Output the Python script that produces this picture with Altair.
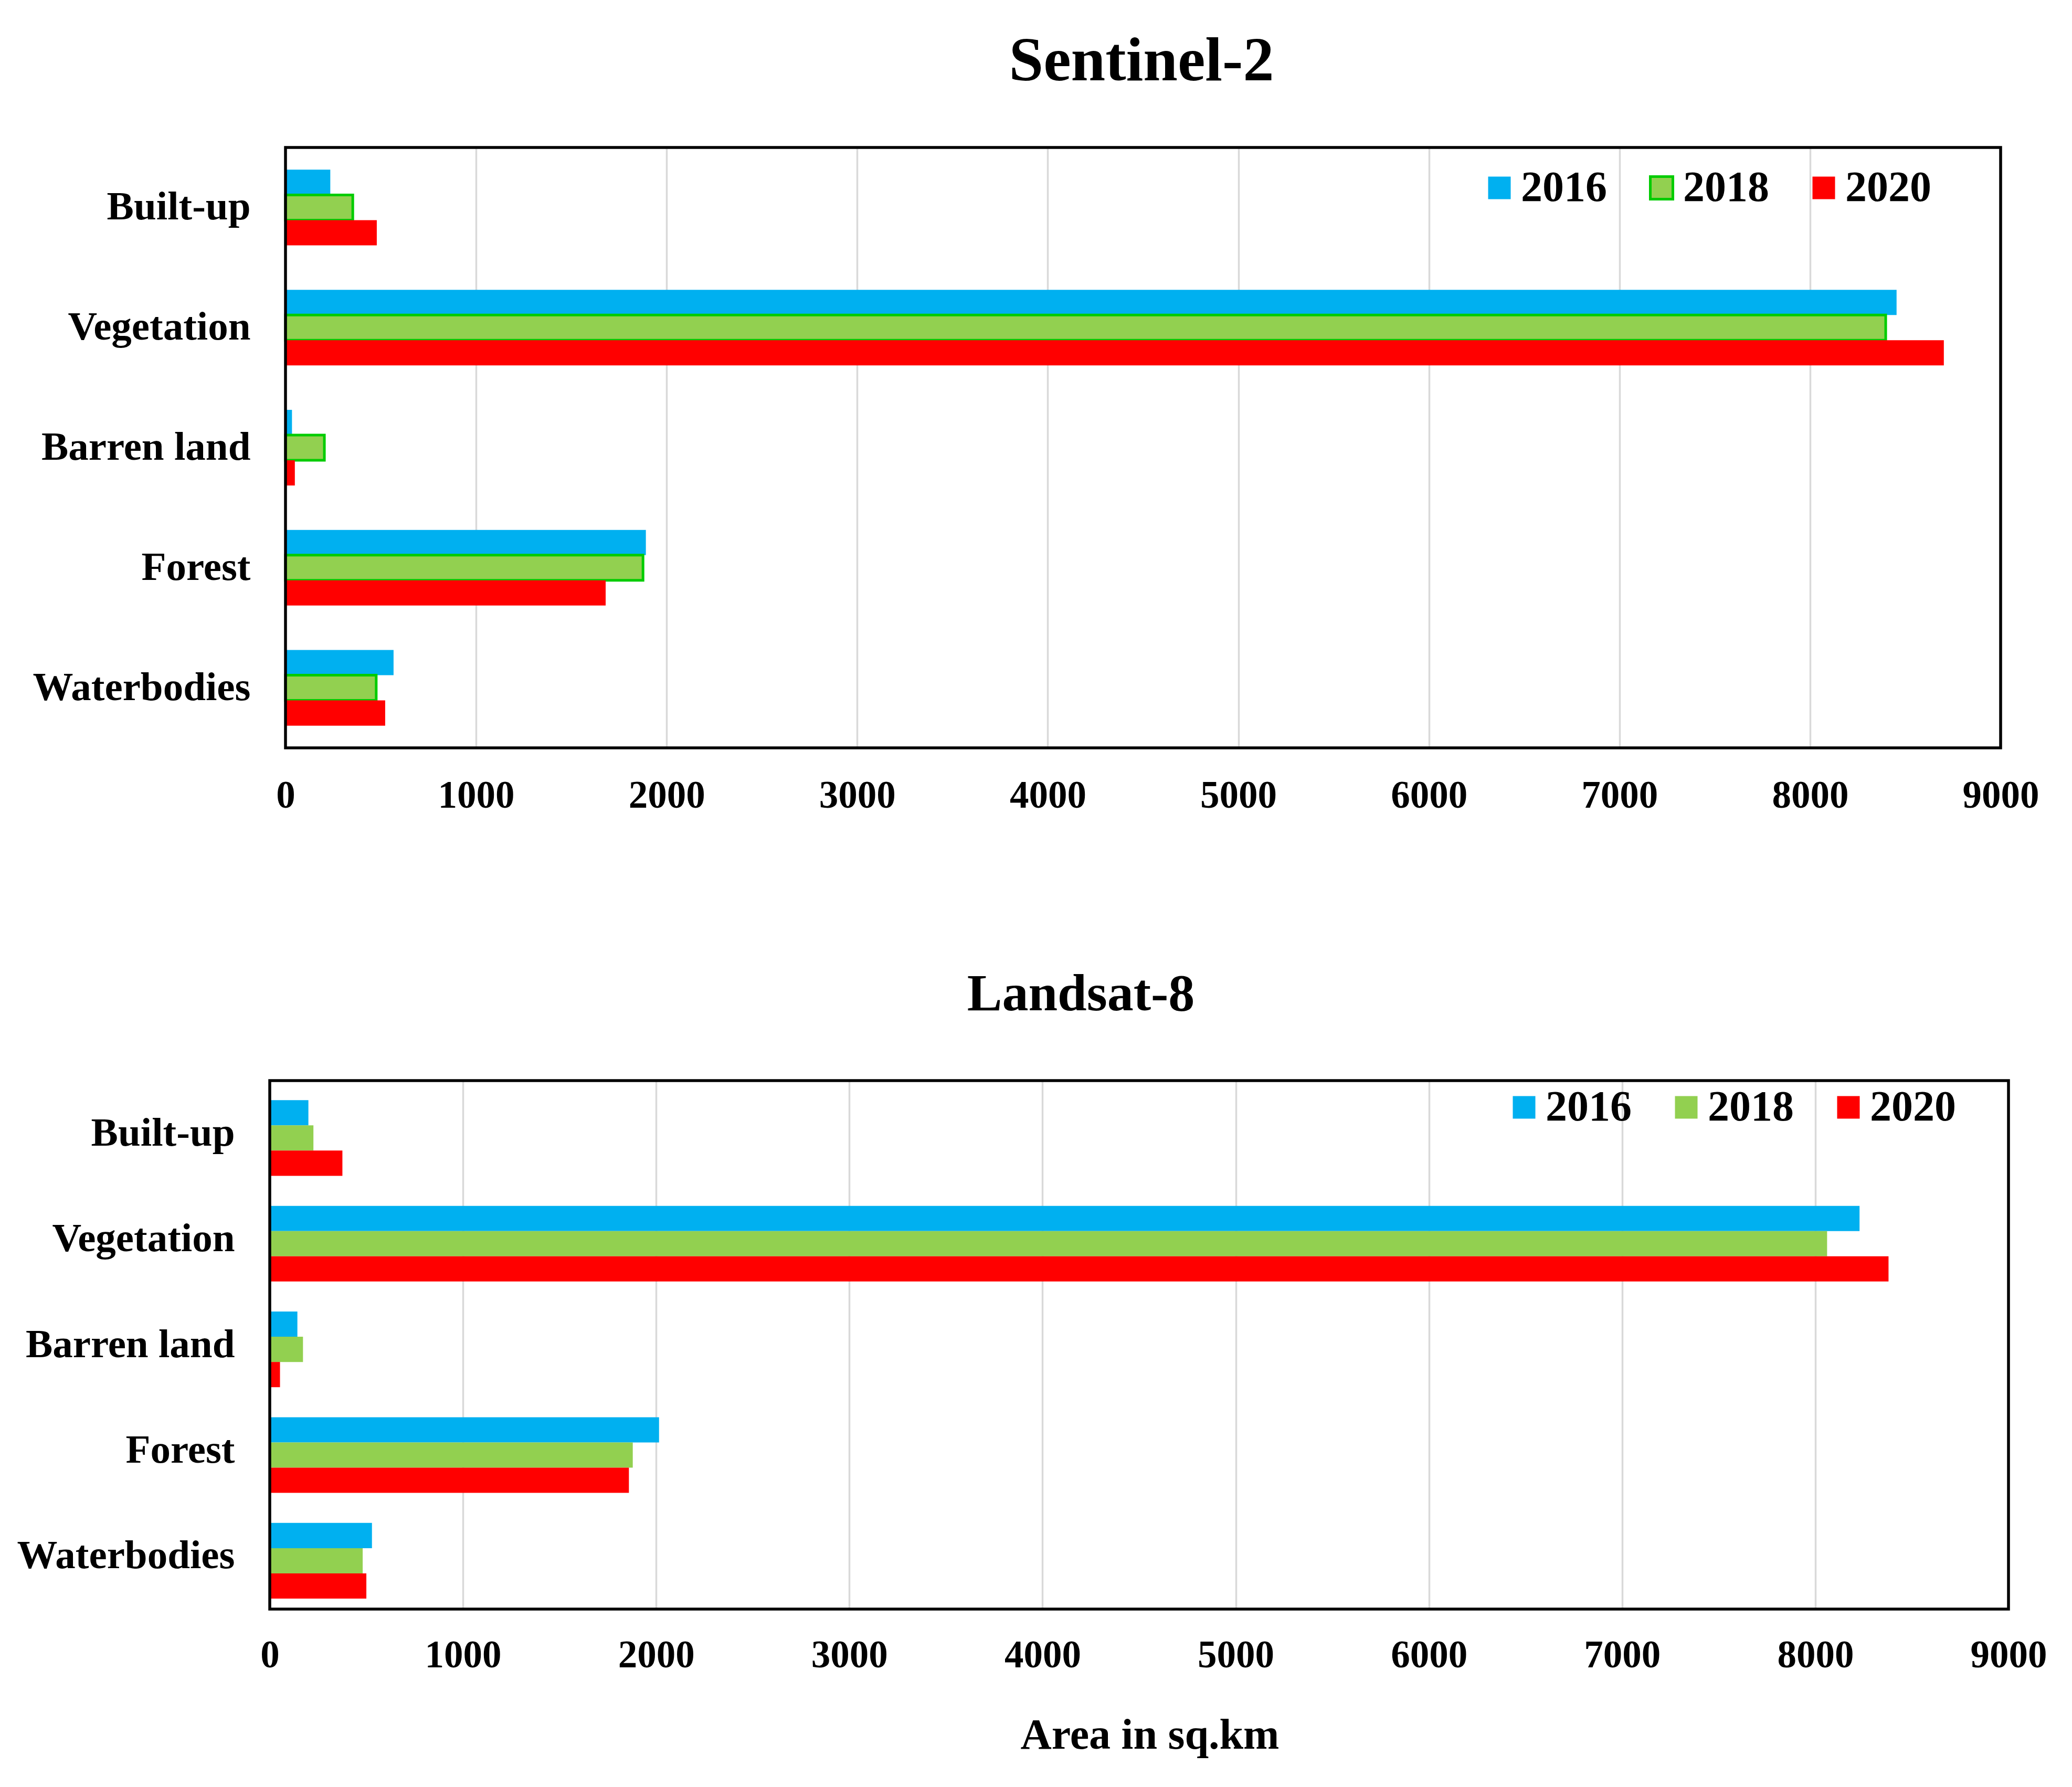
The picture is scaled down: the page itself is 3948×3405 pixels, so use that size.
import altair as alt
import pandas as pd

categories = ["Built-up", "Vegetation", "Barren land", "Forest", "Waterbodies"]
years = ["2016", "2018", "2020"]

s2_2016 = [235, 8454, 34, 1891, 567]
s2_2018 = [353, 8397, 204, 1876, 476]
s2_2020 = [479, 8702, 49, 1680, 523]

l8_2016 = [200, 8229, 143, 2015, 529]
l8_2018 = [226, 8061, 172, 1879, 481]
l8_2020 = [376, 8379, 53, 1859, 500]

x_ticks = [0, 1000, 2000, 3000, 4000, 5000, 6000, 7000, 8000, 9000]

FONT = "Liberation Serif"
colors = ["#00B0F0", "#92D050", "#FF0000"]
BORDER = 5.5


def frame(a, b, c):
    rows = []
    for yr, vals in zip(years, [a, b, c]):
        for cat, v in zip(categories, vals):
            rows.append({"category": cat, "year": yr, "area": v})
    return pd.DataFrame(rows)


def panel(df, title, width, height, shift, legend_x, legend_y, title_offset,
          title_size, title_dx, stroke_range, show_xtitle, xlabel_pad):
    total_w = width + shift
    legend = alt.Legend(
        title=None, orient="none", direction="horizontal",
        legendX=legend_x, legendY=legend_y,
        symbolType="square", symbolSize=1850, symbolStrokeWidth=5,
        labelFont=FONT, labelFontWeight="bold", labelFontSize=82,
        labelColor="black", labelOffset=0, columnPadding=63, padding=0,
        labelLimit=0,
    )
    axis_kwargs = dict(
        values=x_ticks, format="d", grid=True, gridColor="#D9D9D9",
        gridWidth=3.5,
        gridOpacity={"condition": {"test": "datum.value === 0 || datum.value === 9000",
                                   "value": 0}, "value": 1},
        ticks=False, domain=False,
        labelFont=FONT, labelFontWeight="bold", labelFontSize=73,
        labelColor="black", labelPadding=xlabel_pad, labelFlush=False,
        labelLimit=0,
    )
    if show_xtitle:
        x_axis = alt.Axis(
            title="Area in sq.km", titleFont=FONT, titleFontWeight="bold",
            titleFontSize=82, titleColor="black", titlePadding=75,
            titleX=total_w / 2 + 20, **axis_kwargs,
        )
    else:
        x_axis = alt.Axis(title=None, **axis_kwargs)
    y_axis = alt.Axis(
        title=None, ticks=False, domain=False, grid=False,
        labelFont=FONT, labelFontWeight="bold", labelFontSize=77,
        labelColor="black", labelPadding=67, labelLimit=0,
        offset=-shift,
    )
    enc = dict(
        x=alt.X("area:Q",
                scale=alt.Scale(domain=[0, 9000], range=[shift, total_w], nice=False),
                axis=x_axis),
        y=alt.Y("category:N", sort=categories,
                scale=alt.Scale(paddingInner=0.37, paddingOuter=0.185), axis=y_axis),
        yOffset=alt.YOffset("year:N", sort=years,
                            scale=alt.Scale(paddingInner=0, paddingOuter=0)),
        color=alt.Color("year:N", sort=years,
                        scale=alt.Scale(domain=years, range=colors), legend=legend),
    )
    if stroke_range is not None:
        enc["stroke"] = alt.Stroke("year:N", sort=years,
                                   scale=alt.Scale(domain=years, range=stroke_range),
                                   legend=legend)
    bars = alt.Chart(df).mark_bar(
        opacity=1, strokeWidth=5 if stroke_range is not None else 0
    ).encode(**enc)
    border = alt.Chart(alt.Data(values=[{"k": 1}])).mark_rect(
        fill="transparent", stroke="black", strokeWidth=BORDER
    ).encode(
        x=alt.value(shift), x2=alt.value(total_w),
        y=alt.value(0), y2=alt.value(height),
    )
    return alt.layer(bars, border).properties(
        width=total_w, height=height,
        view=alt.ViewBackground(stroke="transparent"),
        title=alt.TitleParams(
            text=title, font=FONT, fontWeight="bold", fontSize=title_size,
            color="black", offset=title_offset, dx=title_dx, anchor="middle",
        ),
    )


top = panel(frame(s2_2016, s2_2018, s2_2020), "Sentinel-2", 3268, 1144, 30,
            2302, 36, 100, 118, 12, ["transparent", "#00CC00", "transparent"],
            False, 55)
bottom = panel(frame(l8_2016, l8_2018, l8_2020), "Landsat-8", 3313, 1007, 0,
               2349, 10, 110, 100, -111, None, True, 52)

chart = alt.concat(top, bottom, columns=1, spacing=290).resolve_scale(
    color="independent", stroke="independent"
).resolve_legend(
    color="independent", stroke="independent"
).properties(
    padding={"left": 23, "top": 50, "right": 10, "bottom": 10},
    background="white",
).configure_view(
    stroke="transparent"
)

chart.save("out.html", embed_options={"renderer": "svg", "actions": False})
